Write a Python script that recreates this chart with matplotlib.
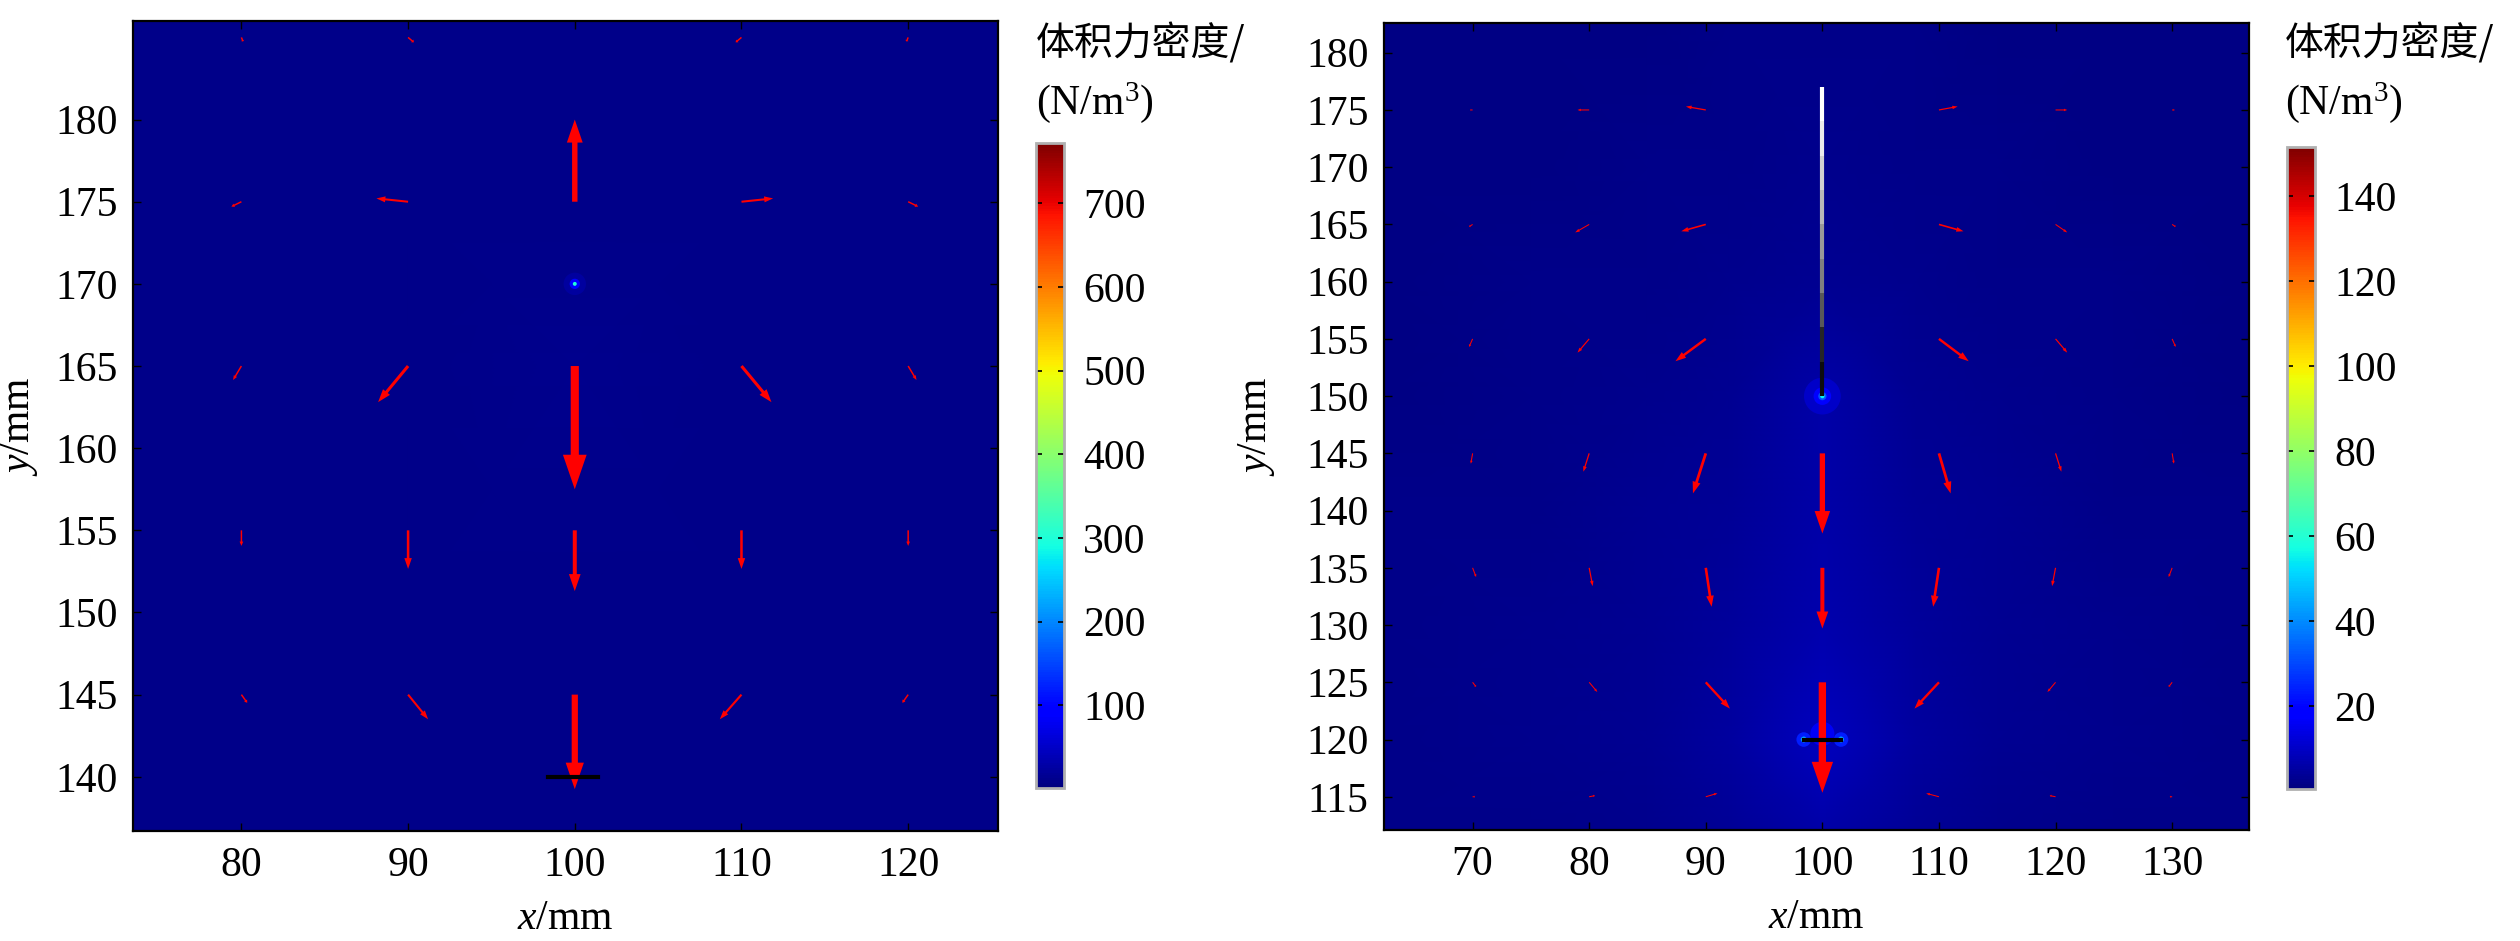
import numpy as np
import matplotlib
matplotlib.use("Agg")
import matplotlib.pyplot as plt
from matplotlib import colors
from matplotlib.collections import LineCollection

plt.rcParams['font.family'] = ['Liberation Serif', 'Noto Sans CJK SC']
plt.rcParams['mathtext.fontset'] = 'custom'
plt.rcParams['mathtext.rm'] = 'Liberation Serif'
plt.rcParams['mathtext.it'] = 'Liberation Serif:italic'

# ---------------- left panel data ----------------
left_xlim = (73.5, 125.4)
left_ylim = (136.7, 186.0)
left_xticks = [80, 90, 100, 110, 120]
left_yticks = [140, 145, 150, 155, 160, 165, 170, 175, 180]
left_cticks = [100, 200, 300, 400, 500, 600, 700]
left_crange = (1, 772)

# background field (nodes)
left_fx = [73.5, 90, 100, 110, 125.4]
left_fy = [136.7, 150, 165, 175, 186.0]
left_field = [
    [8, 8, 9, 8, 8],
    [8, 8, 9, 8, 8],
    [8, 9, 11, 9, 8],
    [8, 8, 9, 8, 8],
    [8, 8, 8, 8, 8],
]
# arrows: tail x, tail y, dx, dy (mm)
left_ax = [80, 90, 110, 120,
           80, 90, 100, 110, 120,
           80, 90, 100, 110, 120,
           80, 90, 100, 110, 120,
           80, 90, 100, 110, 120]
left_ay = [185, 185, 185, 185,
           175, 175, 175, 175, 175,
           165, 165, 165, 165, 165,
           155, 155, 155, 155, 155,
           145, 145, 145, 145, 145]
left_au = [0.1, 0.35, -0.35, -0.1,
           -0.6, -1.9, 0.0, 1.9, 0.6,
           -0.5, -1.8, 0.0, 1.8, 0.5,
           0.0, 0.0, 0.0, 0.0, 0.0,
           0.35, 1.2, 0.0, -1.3, -0.35]
left_av = [-0.25, -0.3, -0.3, -0.25,
           -0.3, 0.2, 5.0, 0.2, -0.3,
           -0.85, -2.2, -7.5, -2.2, -0.85,
           -0.95, -2.35, -3.7, -2.35, -0.95,
           -0.5, -1.5, -5.75, -1.5, -0.5]
left_spot_x = [100, 100, 100]
left_spot_y = [170, 170, 170]
left_spot_v = [25, 90, 300]
left_spot_s = [260, 55, 8]
left_bar_x = [98.4, 101.4]
left_bar_y = [140, 140]

# ---------------- right panel data ----------------
right_xlim = (62.4, 136.6)
right_ylim = (112.1, 182.6)
right_xticks = [70, 80, 90, 100, 110, 120, 130]
right_yticks = [115, 120, 125, 130, 135, 140, 145, 150, 155, 160, 165, 170, 175, 180]
right_cticks = [20, 40, 60, 80, 100, 120, 140]
right_crange = (0.5, 151.5)

right_fx = [62.4, 75, 85, 92, 100, 108, 115, 125, 136.6]
right_fy = [112.1, 120, 130, 140, 150, 160, 170, 182.6]
right_field = [
    [1.8, 2.2, 2.8, 4, 6, 4, 2.8, 2.2, 1.8],
    [1.8, 2.3, 3.2, 5, 9, 5, 3.2, 2.3, 1.8],
    [1.8, 2.3, 3.2, 4.5, 6.5, 4.5, 3.2, 2.3, 1.8],
    [1.8, 2.2, 3, 4, 6, 4, 3, 2.2, 1.8],
    [1.6, 2, 2.6, 3.4, 6, 3.4, 2.6, 2, 1.6],
    [1.5, 1.7, 2, 2.5, 3, 2.5, 2, 1.7, 1.5],
    [1.5, 1.5, 1.7, 2, 2.3, 2, 1.7, 1.5, 1.5],
    [1.5, 1.5, 1.5, 1.7, 1.8, 1.7, 1.5, 1.5, 1.5],
]
right_ax = [70, 80, 90, 110, 120, 130,
            70, 80, 90, 110, 120, 130,
            70, 80, 90, 110, 120, 130,
            70, 80, 90, 100, 110, 120, 130,
            70, 80, 90, 100, 110, 120, 130,
            70, 80, 90, 100, 110, 120, 130,
            70, 80, 90, 110, 120, 130]
right_ay = [175] * 6 + [165] * 6 + [155] * 6 + [145] * 7 + [135] * 7 + [125] * 7 + [115] * 6
right_au = [-0.2, -1.0, -1.7, 1.6, 1.0, 0.2,
            -0.3, -1.2, -2.1, 2.1, 1.0, 0.3,
            -0.3, -1.0, -2.6, 2.55, 1.0, 0.3,
            -0.15, -0.5, -1.1, 0.0, 1.0, 0.5, 0.15,
            0.3, 0.3, 0.5, 0.0, -0.5, -0.3, -0.3,
            0.3, 0.7, 2.07, 0.0, -2.1, -0.7, -0.3,
            0.2, 0.5, 1.0, -1.1, -0.5, -0.2]
right_av = [0.0, 0.0, 0.3, 0.3, 0.0, 0.0,
            -0.2, -0.7, -0.6, -0.6, -0.7, -0.2,
            -0.7, -1.2, -1.95, -1.95, -1.2, -0.7,
            -0.9, -1.6, -3.5, -7.0, -3.5, -1.6, -0.9,
            -0.8, -1.6, -3.4, -5.3, -3.4, -1.6, -0.8,
            -0.4, -0.85, -2.3, -9.65, -2.3, -0.85, -0.4,
            0.0, 0.1, 0.3, 0.3, 0.1, 0.0]
right_spot_x = [100, 100, 100, 100, 98.4, 101.6, 98.4, 101.6, 100]
right_spot_y = [150, 150, 150, 150, 120, 120, 120, 120, 120.5]
right_spot_v = [10, 18, 32, 55, 24, 24, 45, 45, 16]
right_spot_s = [700, 160, 35, 10, 110, 110, 18, 18, 300]
# needle: y nodes from tip (bottom) to top and grey level
needle_y = [150, 153, 156, 159, 162, 165, 168, 171, 174, 177]
needle_grey = [0.0, 0.05, 0.15, 0.35, 0.5, 0.6, 0.72, 0.82, 0.92, 1.0]
right_bar_x = [98.4, 101.6]
right_bar_y = [120, 120]

cmap = plt.get_cmap('jet')

fig = plt.figure(figsize=(25.2, 9.41), dpi=100)
axL = fig.add_axes([0.0528, 0.1169, 0.3433, 0.8608])
caxL = fig.add_axes([0.4111, 0.1626, 0.0111, 0.6854])
axR = fig.add_axes([0.5492, 0.1180, 0.3433, 0.8576])
caxR = fig.add_axes([0.9075, 0.1615, 0.0111, 0.6822])


def draw_arrows(ax, xs, ys, us, vs):
    for x, y, u, v in zip(xs, ys, us, vs):
        L = np.hypot(u, v)
        ax.arrow(x, y, u, v, width=max(0.065 * L, 0.09),
                 head_width=max(0.19 * L, 0.22), head_length=0.28 * L,
                 length_includes_head=True, color='red', lw=0, zorder=5)


def style_axes(ax, xlim, ylim, xticks, yticks, ylab_x):
    ax.set_xlim(*xlim)
    ax.set_ylim(*ylim)
    ax.set_xticks(xticks)
    ax.set_yticks(yticks)
    ax.tick_params(direction='in', top=True, right=True, length=6, width=1,
                   labelsize=30, pad=11)
    for s in ax.spines.values():
        s.set_linewidth(1.6)
    ax.set_xlabel('$x$/mm', fontsize=30)
    ax.set_ylabel('$y$/mm', fontsize=30)
    ax.xaxis.set_label_coords(0.5, -0.085)
    ax.yaxis.set_label_coords(ylab_x, 0.5)


def style_cbar(cax, norm, ticks, label_x):
    sm = plt.cm.ScalarMappable(norm=norm, cmap=cmap)
    cb = fig.colorbar(sm, cax=cax, ticks=ticks)
    cb.outline.set_edgecolor('#b0b0b0')
    cb.outline.set_linewidth(2)
    cax.tick_params(direction='in', left=True, right=True, length=4, width=1.2,
                    color='k', labelsize=30, pad=14)
    fig.text(label_x, 1 - 44 / 941, '体积力密度/', fontsize=28, ha='left',
             va='center', family=['Noto Sans CJK SC'])
    fig.text(label_x, 1 - 103 / 941, '(N/m$^3$)', fontsize=30, ha='left',
             va='center')


# left panel
normL = colors.Normalize(*left_crange)
axL.pcolormesh(left_fx, left_fy, np.array(left_field), shading='gouraud',
               cmap=cmap, norm=normL, zorder=0)
axL.scatter(left_spot_x, left_spot_y, c=left_spot_v, s=left_spot_s,
            cmap=cmap, norm=normL, edgecolors='none', zorder=2)
draw_arrows(axL, left_ax, left_ay, left_au, left_av)
axL.plot(left_bar_x, left_bar_y, color='black', lw=3, zorder=6)
style_axes(axL, left_xlim, left_ylim, left_xticks, left_yticks, -0.108)
style_cbar(caxL, normL, left_cticks, 1036 / 2520)

# right panel
normR = colors.Normalize(*right_crange)
axR.pcolormesh(right_fx, right_fy, np.array(right_field), shading='gouraud',
               cmap=cmap, norm=normR, zorder=0)
order = np.argsort(right_spot_s)[::-1]
axR.scatter(np.array(right_spot_x)[order], np.array(right_spot_y)[order],
            c=np.array(right_spot_v)[order], s=np.array(right_spot_s)[order],
            cmap=cmap, norm=normR, edgecolors='none', zorder=2)
segs = [[(100, needle_y[i]), (100, needle_y[i + 1])] for i in range(len(needle_y) - 1)]
greys = [str(g) for g in needle_grey[1:]]
axR.add_collection(LineCollection(segs, colors=greys, linewidths=3, zorder=4,
                                  capstyle='butt'))
draw_arrows(axR, right_ax, right_ay, right_au, right_av)
axR.plot(right_bar_x, right_bar_y, color='black', lw=3, zorder=6)
style_axes(axR, right_xlim, right_ylim, right_xticks, right_yticks, -0.124)
style_cbar(caxR, normR, right_cticks, 2285 / 2520)

fig.savefig('out.png', dpi=100)
